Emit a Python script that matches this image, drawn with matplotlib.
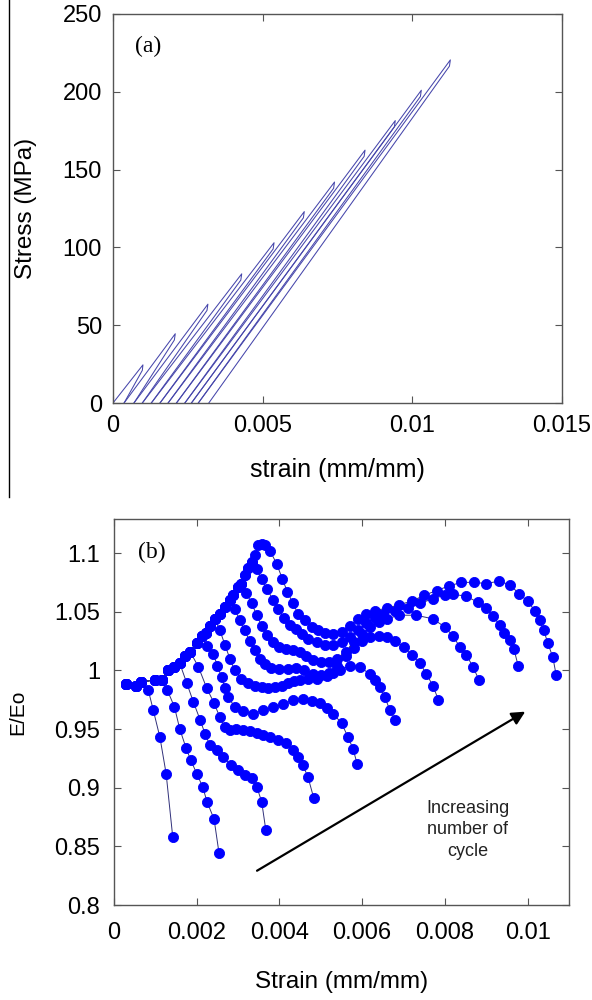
import matplotlib
matplotlib.use("Agg")
import matplotlib.pyplot as plt
from matplotlib.lines import Line2D

plt.rcParams['font.family'] = ['Liberation Sans', 'DejaVu Sans']

# ---- (a) stress-strain loading/unloading cycles ----
peak_strain = [0.00100, 0.00208, 0.00317, 0.00430, 0.00538, 0.00639,
               0.00740, 0.00842, 0.00943, 0.01030, 0.01127]
peak_stress = [24.5, 44.5, 63.5, 83.0, 103.0, 123.0, 142.0, 162.5, 181.5, 201.0, 220.5]
# small drop right after each peak (the "hook" at the top of each loop)
knee_strain = [0.00098, 0.00205, 0.00314, 0.00427, 0.00535, 0.00636,
               0.00737, 0.00839, 0.00940, 0.01027, 0.01124]
knee_stress = [21.0, 40.5, 59.5, 79.0, 99.0, 119.0, 138.0, 158.5, 177.5, 197.0, 216.5]
residual_strain = [0.0, 0.00037, 0.00070, 0.00098, 0.00128, 0.00157,
                   0.00184, 0.00212, 0.00240, 0.00262, 0.00285, 0.00320]

# ---- (b) E/Eo vs strain ----
# shared rising envelope
env_strain = [0.00029, 0.00052, 0.00065, 0.00099, 0.00115, 0.00131, 0.00145, 0.00159,
              0.00172, 0.00184, 0.00200, 0.00212, 0.00222, 0.00233, 0.00244, 0.00256,
              0.00268, 0.00280, 0.00288, 0.00300, 0.00308, 0.00316, 0.00324, 0.00333,
              0.00341, 0.00349, 0.00357, 0.00365]
env_ratio = [0.988, 0.987, 0.990, 0.992, 0.992, 1.000, 1.003, 1.006,
             1.012, 1.016, 1.023, 1.029, 1.032, 1.038, 1.044, 1.048,
             1.054, 1.060, 1.064, 1.071, 1.074, 1.081, 1.087, 1.092,
             1.098, 1.107, 1.108, 1.107]
# number of envelope points each cycle follows before it turns away
branch_n = [3, 5, 8, 10, 12, 15, 18, 21, 24, 28]

cyc1_strain = [0.00083, 0.00095, 0.00111, 0.00126, 0.00142]
cyc1_ratio = [0.983, 0.966, 0.943, 0.912, 0.858]

cyc2_strain = [0.00129, 0.00146, 0.00159, 0.00174, 0.00185, 0.00200, 0.00214, 0.00225,
               0.00242, 0.00254]
cyc2_ratio = [0.983, 0.969, 0.950, 0.934, 0.924, 0.912, 0.901, 0.888, 0.873, 0.844]

cyc3_strain = [0.00176, 0.00192, 0.00208, 0.00220, 0.00232, 0.00248, 0.00264, 0.00284,
               0.00300, 0.00316, 0.00333, 0.00345, 0.00357, 0.00367]
cyc3_ratio = [0.989, 0.973, 0.958, 0.946, 0.936, 0.932, 0.926, 0.919,
              0.915, 0.911, 0.908, 0.901, 0.888, 0.864]

cyc4_strain = [0.00204, 0.00224, 0.00242, 0.00256, 0.00268, 0.00280, 0.00296, 0.00312,
               0.00329, 0.00345, 0.00361, 0.00377, 0.00397, 0.00417, 0.00433, 0.00445,
               0.00457, 0.00469, 0.00483]
cyc4_ratio = [1.003, 0.985, 0.972, 0.960, 0.952, 0.949, 0.950, 0.949,
              0.948, 0.947, 0.945, 0.943, 0.941, 0.938, 0.932, 0.926,
              0.919, 0.909, 0.891]

cyc5_strain = [0.00226, 0.00240, 0.00250, 0.00260, 0.00268, 0.00276, 0.00292, 0.00312,
               0.00336, 0.00361, 0.00385, 0.00409, 0.00433, 0.00457, 0.00478, 0.00498,
               0.00514, 0.00530, 0.00550, 0.00566, 0.00578, 0.00588]
cyc5_ratio = [1.021, 1.014, 1.004, 0.994, 0.985, 0.977, 0.969, 0.965,
              0.963, 0.966, 0.969, 0.971, 0.975, 0.976, 0.974, 0.972,
              0.968, 0.963, 0.955, 0.943, 0.933, 0.920]

cyc6_strain = [0.00256, 0.00268, 0.00280, 0.00292, 0.00308, 0.00325, 0.00340, 0.00357,
               0.00373, 0.00390, 0.00405, 0.00420, 0.00435, 0.00450, 0.00470, 0.00490,
               0.00514, 0.00530, 0.00546, 0.00570, 0.00594, 0.00618, 0.00630, 0.00643,
               0.00655, 0.00667, 0.00680]
cyc6_ratio = [1.034, 1.022, 1.010, 1.000, 0.993, 0.989, 0.987, 0.986,
              0.985, 0.986, 0.987, 0.989, 0.991, 0.992, 0.993, 0.993,
              0.995, 0.998, 1.000, 1.004, 1.003, 0.997, 0.992, 0.986,
              0.977, 0.966, 0.958]

cyc7_strain = [0.00292, 0.00304, 0.00316, 0.00328, 0.00340, 0.00353, 0.00365, 0.00380,
               0.00400, 0.00420, 0.00440, 0.00460, 0.00480, 0.00500, 0.00520, 0.00540,
               0.00560, 0.00580, 0.00600, 0.00620, 0.00640, 0.00660, 0.00680, 0.00700,
               0.00720, 0.00740, 0.00755, 0.00771, 0.00784]
cyc7_ratio = [1.052, 1.043, 1.034, 1.025, 1.017, 1.010, 1.005, 1.002,
              1.001, 1.001, 1.002, 1.000, 0.997, 0.996, 0.998, 1.004,
              1.012, 1.019, 1.025, 1.028, 1.029, 1.028, 1.025, 1.020,
              1.013, 1.006, 0.997, 0.987, 0.975]

cyc8_strain = [0.00320, 0.00333, 0.00345, 0.00357, 0.00370, 0.00385, 0.00400, 0.00417,
               0.00433, 0.00449, 0.00465, 0.00480, 0.00500, 0.00520, 0.00540, 0.00560,
               0.00580, 0.00600, 0.00620, 0.00640, 0.00660, 0.00690, 0.00730, 0.00770,
               0.00800, 0.00820, 0.00836, 0.00852, 0.00868, 0.00882]
cyc8_ratio = [1.066, 1.057, 1.047, 1.038, 1.030, 1.024, 1.020, 1.018,
              1.017, 1.016, 1.012, 1.009, 1.007, 1.007, 1.010, 1.016,
              1.024, 1.031, 1.037, 1.041, 1.044, 1.047, 1.047, 1.044,
              1.037, 1.029, 1.020, 1.013, 1.003, 0.992]

cyc9_strain = [0.00345, 0.00357, 0.00370, 0.00385, 0.00397, 0.00410, 0.00425, 0.00440,
               0.00455, 0.00470, 0.00490, 0.00510, 0.00530, 0.00550, 0.00570, 0.00590,
               0.00610, 0.00630, 0.00650, 0.00680, 0.00710, 0.00740, 0.00770, 0.00800,
               0.00820, 0.00852, 0.00880, 0.00900, 0.00916, 0.00932, 0.00944, 0.00957,
               0.00967, 0.00977]
cyc9_ratio = [1.086, 1.078, 1.069, 1.060, 1.052, 1.045, 1.039, 1.035,
              1.031, 1.027, 1.024, 1.022, 1.022, 1.024, 1.028, 1.034,
              1.040, 1.045, 1.048, 1.051, 1.053, 1.057, 1.061, 1.064,
              1.065, 1.063, 1.058, 1.053, 1.046, 1.039, 1.032, 1.026,
              1.018, 1.004]

cyc10_strain = [0.00377, 0.00393, 0.00407, 0.00419, 0.00433, 0.00445, 0.00461, 0.00478,
                0.00494, 0.00510, 0.00530, 0.00550, 0.00570, 0.00590, 0.00610, 0.00630,
                0.00660, 0.00690, 0.00720, 0.00750, 0.00780, 0.00810, 0.00840, 0.00870,
                0.00900, 0.00930, 0.00957, 0.00980, 0.01000, 0.01017, 0.01029, 0.01039,
                0.01049, 0.01061, 0.01069]
cyc10_ratio = [1.102, 1.091, 1.078, 1.067, 1.057, 1.048, 1.043, 1.037,
               1.034, 1.032, 1.031, 1.033, 1.038, 1.044, 1.048, 1.051,
               1.053, 1.056, 1.059, 1.064, 1.068, 1.072, 1.075, 1.075,
               1.074, 1.076, 1.073, 1.065, 1.059, 1.051, 1.043, 1.034,
               1.023, 1.011, 0.996]

cycle_strain = [cyc1_strain, cyc2_strain, cyc3_strain, cyc4_strain, cyc5_strain,
                cyc6_strain, cyc7_strain, cyc8_strain, cyc9_strain, cyc10_strain]
cycle_ratio = [cyc1_ratio, cyc2_ratio, cyc3_ratio, cyc4_ratio, cyc5_ratio,
               cyc6_ratio, cyc7_ratio, cyc8_ratio, cyc9_ratio, cyc10_ratio]

spine_col = '#555555'

fig = plt.figure(figsize=(5.92, 10), dpi=100)

# ---------------- panel (a) ----------------
ax1 = fig.add_axes([113 / 592, 1 - 403 / 1000, 449 / 592, 389 / 1000])
for i in range(len(peak_strain)):
    ax1.plot([residual_strain[i], peak_strain[i], knee_strain[i], residual_strain[i + 1]],
             [0, peak_stress[i], knee_stress[i], 0], color='#4646ab', lw=0.75)

ax1.set_xlim(0, 0.015)
ax1.set_ylim(0, 250)
ax1.set_xticks([0, 0.005, 0.01, 0.015])
ax1.set_xticklabels(['0', '0.005', '0.01', '0.015'])
ax1.set_yticks([0, 50, 100, 150, 200, 250])
ax1.tick_params(axis='both', direction='in', top=True, right=True, length=5,
                width=0.8, color=spine_col, labelsize=17)
ax1.tick_params(axis='x', pad=9)
ax1.tick_params(axis='y', pad=8)
ax1.set_xlabel('strain (mm/mm)', fontsize=18)
ax1.xaxis.label.set_va('center')
ax1.xaxis.set_label_coords(0.5, -(470 - 403) / 389)
ax1.set_ylabel('Stress (MPa)', fontsize=17.5)
ax1.yaxis.label.set_va('center')
ax1.yaxis.set_label_coords((26 - 113) / 449, 0.5)
ax1.text(0.00117, 229, '(a)', family='Liberation Serif', fontsize=17,
         ha='center', va='center')
for s in ax1.spines.values():
    s.set_color(spine_col)
    s.set_linewidth(1.0)

# ---------------- panel (b) ----------------
ax2 = fig.add_axes([114 / 592, 1 - 905 / 1000, 455 / 592, 386 / 1000])
for k in range(len(cycle_strain)):
    n = branch_n[k]
    xs = env_strain[:n] + cycle_strain[k]
    ys = env_ratio[:n] + cycle_ratio[k]
    ax2.plot(xs, ys, color='#30307a', lw=0.7, marker='o', ms=7.3,
             mfc='#0000ff', mec='#0000ff', mew=0.6)

ax2.annotate('', xy=(0.0100, 0.966), xytext=(0.0034, 0.828),
             arrowprops=dict(arrowstyle='-|>', mutation_scale=20, lw=1.6, color='black'))
ax2.text(0.00855, 0.864, 'Increasing\nnumber of\ncycle', fontsize=13,
         ha='center', va='center', linespacing=1.36, color='#222222')
ax2.text(0.00092, 1.1007, '(b)', family='Liberation Serif', fontsize=17,
         ha='center', va='center')

ax2.set_xlim(0, 0.011)
ax2.set_ylim(0.8, 1.129)
ax2.set_xticks([0, 0.002, 0.004, 0.006, 0.008, 0.01])
ax2.set_xticklabels(['0', '0.002', '0.004', '0.006', '0.008', '0.01'])
ax2.set_yticks([0.8, 0.85, 0.9, 0.95, 1.0, 1.05, 1.1])
ax2.set_yticklabels(['0.8', '0.85', '0.9', '0.95', '1', '1.05', '1.1'])
ax2.tick_params(axis='both', direction='in', top=True, right=True, length=5,
                width=0.8, color=spine_col, labelsize=17)
ax2.tick_params(axis='x', pad=12)
ax2.tick_params(axis='y', pad=10)
ax2.set_xlabel('Strain (mm/mm)', fontsize=17.5)
ax2.xaxis.label.set_va('center')
ax2.xaxis.set_label_coords(0.5, -(982 - 905) / 386)
ax2.set_ylabel('E/Eo', fontsize=15)
ax2.yaxis.label.set_va('center')
ax2.yaxis.set_label_coords((18 - 114) / 455, 0.5)
for s in ax2.spines.values():
    s.set_color(spine_col)
    s.set_linewidth(1.0)

# page rule on the left of panel (a)
fig.add_artist(Line2D([8.5 / 592, 8.5 / 592], [1.0, 1 - 497 / 1000],
                      color='black', lw=1.0))

fig.savefig('out.png', dpi=100)
